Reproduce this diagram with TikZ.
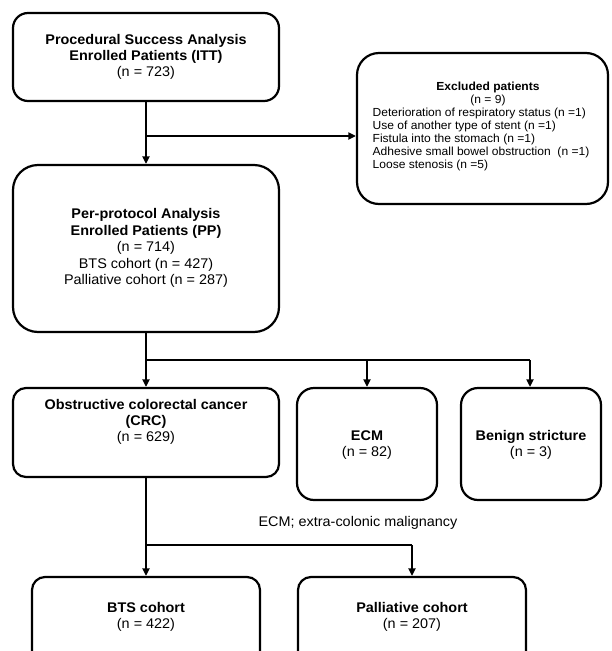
\documentclass[tikz,border=0pt]{standalone}
\usepackage{fontspec}
\setmainfont[FakeStretch=1.03]{Liberation Sans}
\usetikzlibrary{arrows.meta}
\begin{document}
\begin{tikzpicture}[x=1pt,y=-1pt,
  box/.style={draw=black,line width=2.2pt,fill=white,inner sep=0pt},
  txt/.style={align=center,font=\fontsize{14}{16}\selectfont,inner sep=0pt},
  conn/.style={line width=2pt,-{Triangle[length=7.5pt,width=7pt]}},
  seg/.style={line width=2pt}]
\useasboundingbox (0,0) rectangle (611,651);
\clip (0,0) rectangle (611,651);
\fill[white] (0,0) rectangle (611,651);
% boxes
\node[box,rounded corners=15pt,minimum width=266pt,minimum height=88pt] (itt) at (146,57) {};
\node[box,rounded corners=22pt,minimum width=251pt,minimum height=151pt] (excl) at (482.5,128.5) {};
\node[box,rounded corners=25pt,minimum width=266pt,minimum height=167pt] (pp) at (146,248.5) {};
\node[box,rounded corners=13pt,minimum width=266pt,minimum height=89pt] (crc) at (146,432.5) {};
\node[box,rounded corners=17pt,minimum width=140pt,minimum height=112pt] (ecm) at (367,444) {};
\node[box,rounded corners=17pt,minimum width=140pt,minimum height=112pt] (ben) at (531,444) {};
\node[box,rounded corners=13pt,minimum width=228pt,minimum height=110pt] (bts) at (146,632) {};
\node[box,rounded corners=13pt,minimum width=228pt,minimum height=110pt] (pal) at (412,632) {};
% texts
\node[txt] (ittt) at (146,57) {\textbf{Procedural Success Analysis}\\\textbf{Enrolled Patients (ITT)}\\(n = 723)};
\node[txt,font=\fontsize{11.7}{13}\selectfont] (exclt) at (481,127) {\begin{tabular}{@{}l@{}}
\multicolumn{1}{@{}c@{}}{\hspace{14pt}\textbf{Excluded patients}}\\
\multicolumn{1}{@{}c@{}}{\hspace{14pt}(n = 9)}\\
Deterioration of respiratory status (n =1)\\
Use of another type of stent (n =1)\\
Fistula into the stomach (n =1)\\
Adhesive small bowel obstruction\ \ (n =1)\\
Loose stenosis (n =5)
\end{tabular}};
\node[txt,font=\fontsize{14}{16.5}\selectfont] (ppt) at (146,248) {\textbf{Per-protocol Analysis}\\\textbf{Enrolled Patients (PP)}\\(n = 714)\\BTS cohort (n = 427)\\Palliative cohort (n = 287)};
\node[txt] (crct) at (146,422) {\textbf{Obstructive colorectal cancer}\\\textbf{(CRC)}\\(n = 629)};
\node[txt] (ecmt) at (367,445) {\textbf{ECM}\\(n = 82)};
\node[txt] (bent) at (531,445) {\textbf{Benign stricture}\\(n = 3)};
\node[txt] (btst) at (146,617) {\textbf{BTS cohort}\\(n = 422)};
\node[txt] (palt) at (412,617) {\textbf{Palliative cohort}\\(n = 207)};
\node[txt] (note) at (358,523) {ECM; extra-colonic malignancy};
% junctions
\coordinate (j1) at (146,136);
\coordinate (j2) at (146,360);
\coordinate (j3) at (146,545);
% connectors
\draw[conn] (itt.south) -- (pp.north);
\draw[conn] (j1) -- (j1 -| excl.west);
\draw[conn] (pp.south) -- (crc.north);
\draw[seg] (j2) -- ([xshift=-1pt]j2 -| ben.north);
\draw[conn] (j2 -| ecm.north) -- (ecm.north);
\draw[conn] ([xshift=-1pt]j2 -| ben.north) -- ([xshift=-1pt]ben.north);
\draw[conn] (crc.south) -- (bts.north);
\draw[seg] (j3) -- (j3 -| pal.north);
\draw[conn] (j3 -| pal.north) -- (pal.north);
\end{tikzpicture}
\end{document}
